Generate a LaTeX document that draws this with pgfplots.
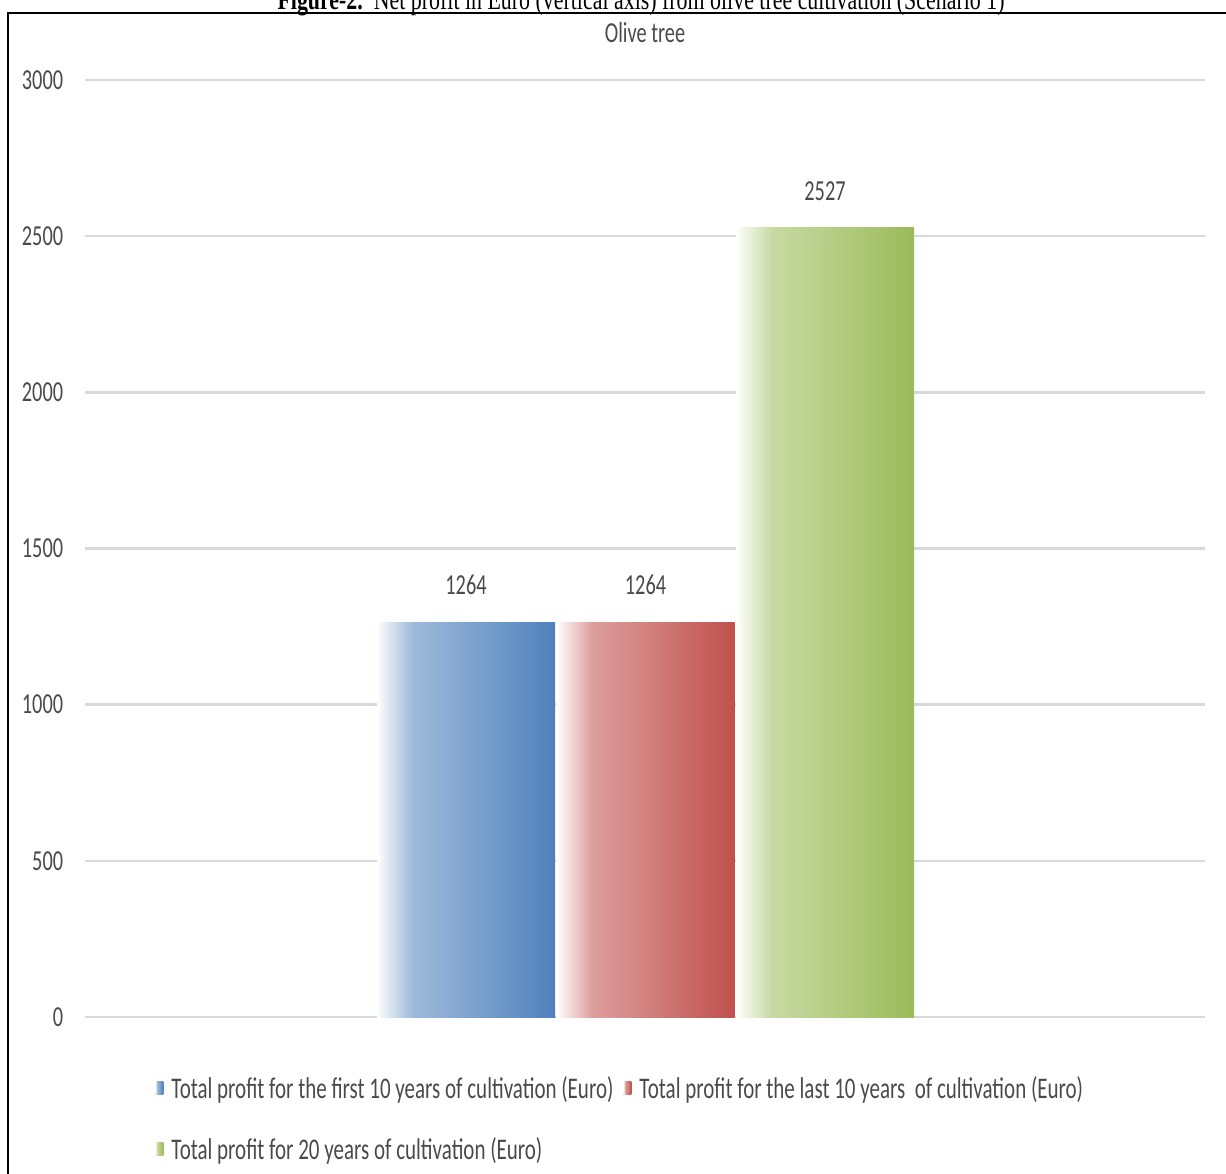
\documentclass[border=0pt]{standalone}
\usepackage{fontspec}
\setmainfont{Carlito}[FakeStretch=0.7]
\newfontfamily\capfont{Liberation Serif}[FakeStretch=0.75]
\usepackage{pgfplots}
\pgfplotsset{compat=1.18}

% Office-style palette
\definecolor{xlblue}{HTML}{4F81BD}
\definecolor{xlred}{HTML}{C0504D}
\definecolor{xlgreen}{HTML}{9BBB59}
\definecolor{txtgray}{HTML}{4A4A4A}
\definecolor{gridgray}{HTML}{D9D9D9}

\colorlet{blueA}{xlblue!12!white}\colorlet{blueB}{xlblue!55!white}
\colorlet{redA}{xlred!12!white}\colorlet{redB}{xlred!55!white}
\colorlet{greenA}{xlgreen!12!white}\colorlet{greenB}{xlgreen!55!white}

% bars fade from white on the left to full colour on the right
\pgfdeclarehorizontalshading{barblue}{100bp}{color(0bp)=(white); color(25bp)=(white); color(27bp)=(blueA); color(35bp)=(blueB); color(75bp)=(xlblue); color(100bp)=(xlblue)}
\pgfdeclarehorizontalshading{barred}{100bp}{color(0bp)=(white); color(25bp)=(white); color(27bp)=(redA); color(35bp)=(redB); color(75bp)=(xlred); color(100bp)=(xlred)}
\pgfdeclarehorizontalshading{bargreen}{100bp}{color(0bp)=(white); color(25bp)=(white); color(27bp)=(greenA); color(35bp)=(greenB); color(75bp)=(xlgreen); color(100bp)=(xlgreen)}

\newcommand{\chartfont}{\fontsize{14.5}{17}\selectfont}
\newcommand{\legendfont}{\fontsize{15}{17}\selectfont}

\begin{document}
\begin{tikzpicture}
\useasboundingbox (0,0) rectangle (613pt,-586.5pt);
\clip (0,0) rectangle (613pt,-586.5pt);

% figure caption above the frame
\node[anchor=base, inner sep=0pt] at (320.5pt,-4.5pt)
  {\capfont\fontsize{14.6}{16}\selectfont\textbf{Figure-2.}\ \ Net profit in Euro (vertical axis) from olive tree cultivation (Scenario 1)};

% chart frame
\draw[line width=1pt] (3.75pt,-600pt) -- (3.75pt,-6.25pt) -- (620pt,-6.25pt);

% chart title
\node[anchor=base, inner sep=0pt, text=txtgray] at (322.5pt,-21pt) {\chartfont Olive tree};

\begin{axis}[
  at={(42.5pt,-508.5pt)}, anchor=south west,
  scale only axis, width=560pt, height=468.5pt,
  xmin=85, xmax=1205, ymin=0, ymax=3000,
  xtick=\empty, ytick={0,500,...,3000},
  axis line style={draw=none},
  major tick length=0pt,
  ymajorgrids, grid style={gridgray, line width=1.2pt},
  /pgf/number format/1000 sep={},
  /pgf/number format/assume math mode=true,
  yticklabel style={font=\chartfont, text=txtgray, inner sep=0pt, anchor=east, xshift=-10.75pt},
  nodes near coords,
  nodes near coords style={font=\chartfont, text=txtgray, anchor=south, inner sep=0pt, yshift=13.5pt},
  legend columns=2,
  legend cell align=left,
  legend style={at={(0.0625,-0.1089)}, anchor=west, draw=none, fill=none, inner sep=0pt,
    font=\legendfont, text=txtgray, row sep=18pt,
    nodes={inner sep=0pt},
    /tikz/every odd column/.append style={column sep=4pt},
    /tikz/every even column/.append style={column sep=5pt}},
]
\addplot[ybar, bar width=178, bar shift=0pt, draw=none, shade, shading=barblue,
  legend image code/.code={\fill[xlblue] (0pt,-3pt) rectangle (4pt,3.5pt);}]
  coordinates {(466,1264)};
\addlegendentry{Total profit for the first 10 years of cultivation (Euro)}
\addplot[ybar, bar width=178, bar shift=0pt, draw=none, shade, shading=barred,
  legend image code/.code={\fill[xlred] (0pt,-3pt) rectangle (4pt,3.5pt);}]
  coordinates {(645.5,1264)};
\addlegendentry{Total profit for the last 10 years\ \ of cultivation (Euro)}
\addplot[ybar, bar width=178, bar shift=0pt, draw=none, shade, shading=bargreen,
  legend image code/.code={\fill[xlgreen] (0pt,-3pt) rectangle (4pt,3.5pt);}]
  coordinates {(825,2527)};
\addlegendentry{Total profit for 20 years of cultivation (Euro)}
\end{axis}
\end{tikzpicture}
\end{document}
